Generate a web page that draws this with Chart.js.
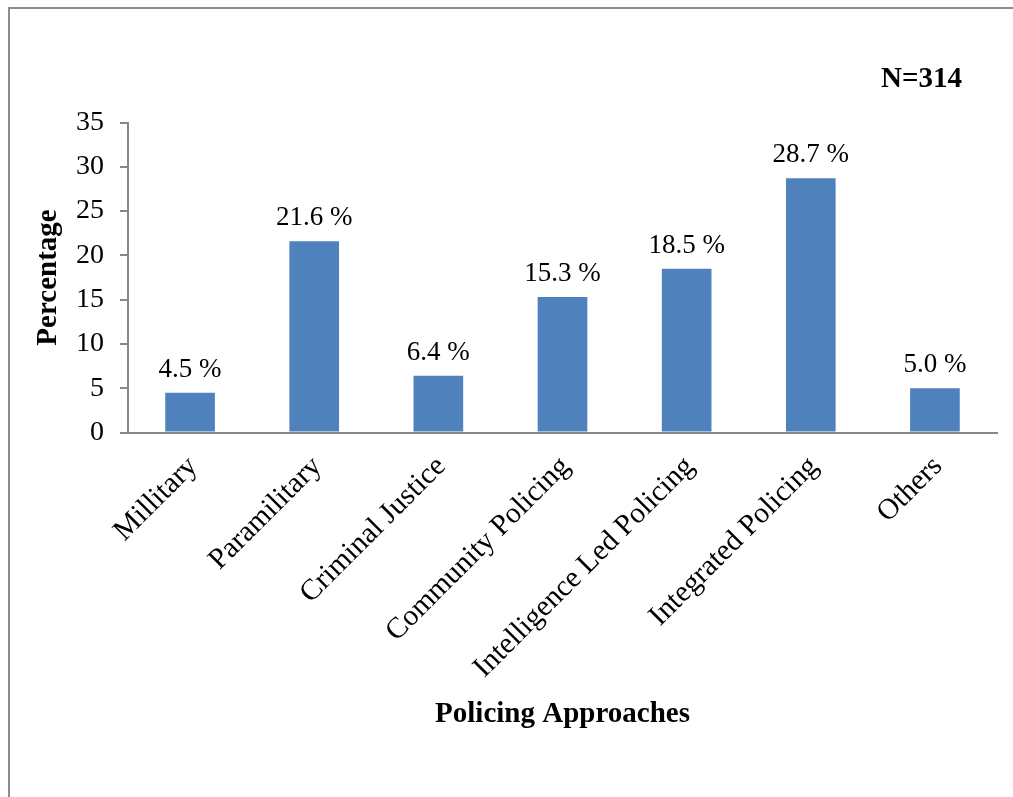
<!DOCTYPE html>
<html>
<head>
<meta charset="utf-8">
<script src="https://cdn.jsdelivr.net/npm/chart.js@4"></script>
<style>
    body { margin: 0; background: #fff; }
    #wrap { position: relative; width: 1013px; height: 797px; overflow: hidden; }
    #frame { position: absolute; left: 8px; top: 7px; width: 1100px; height: 900px;
             border-left: 2px solid #8c8c8c; border-top: 2px solid #8c8c8c; }
    #chart { position: absolute; left: 0; top: 0; }
</style>
</head>
<body>
<div id="wrap">
    <div id="frame"></div>
    <canvas id="chart" width="1013" height="797"></canvas>
</div>
<script>
// Chart data
const categories = ['Millitary', 'Paramilitary', 'Criminal Justice', 'Community Policing',
    'Intelligence Led Policing', 'Integrated Policing', 'Others'];
const percentages = [4.5, 21.6, 6.4, 15.3, 18.5, 28.7, 5.0];
const yTicks = [0, 5, 10, 15, 20, 25, 30, 35];
const sampleNote = 'N=314';

const serif = "'Liberation Serif', 'Times New Roman', serif";
const axisGray = '#868686';

// Draw value labels above each bar and the N note
const valueLabels = {
    id: 'valueLabels',
    afterDatasetsDraw(chart) {
        const ctx = chart.ctx;
        const meta = chart.getDatasetMeta(0);
        ctx.save();
        ctx.fillStyle = '#000';
        ctx.font = `27px ${serif}`;
        ctx.textAlign = 'center';
        ctx.textBaseline = 'alphabetic';
        meta.data.forEach((bar, i) => {
            ctx.fillText(percentages[i].toFixed(1) + ' %', bar.x, bar.y - 16);
        });
        ctx.font = `bold 29px ${serif}`;
        ctx.textAlign = 'right';
        ctx.fillText(sampleNote, 962, 87);
        ctx.restore();
    }
};

new Chart(document.getElementById('chart').getContext('2d'), {
    type: 'bar',
    data: {
        labels: categories,
        datasets: [{
            data: percentages,
            backgroundColor: '#4F81BD',
            borderWidth: 0,
            categoryPercentage: 1,
            barPercentage: 0.4
        }]
    },
    options: {
        responsive: false,
        animation: false,
        layout: { padding: { top: 122.5, right: 16, bottom: 0, left: 0 } },
        plugins: {
            legend: { display: false },
            tooltip: { enabled: false }
        },
        scales: {
            x: {
                afterFit: s => { s.height = 797 - 432.5; },
                grid: { display: false, drawTicks: false },
                border: { display: true, color: axisGray, width: 2 },
                ticks: {
                    color: '#000',
                    font: { family: serif, size: 29.5 },
                    minRotation: 45,
                    maxRotation: 45,
                    autoSkip: false,
                    labelOffset: 3,
                    padding: 17
                },
                title: {
                    display: true,
                    text: 'Policing Approaches',
                    color: '#000',
                    font: { family: serif, size: 29, weight: 'bold' },
                    padding: { top: 0, bottom: 64.6 }
                }
            },
            y: {
                min: 0,
                max: 35,
                afterFit: s => { s.width = 128; },
                afterBuildTicks: s => { s.ticks = yTicks.map(v => ({ value: v })); },
                grid: { drawOnChartArea: false, drawTicks: true, tickLength: 8, color: axisGray, lineWidth: 2 },
                border: { display: true, color: axisGray, width: 2 },
                ticks: {
                    color: '#000',
                    font: { family: serif, size: 28 },
                    padding: 16
                },
                title: {
                    display: true,
                    text: 'Percentage',
                    color: '#000',
                    font: { family: serif, size: 29, weight: 'bold' },
                    padding: { top: 31.6, bottom: 0 }
                }
            }
        }
    },
    plugins: [valueLabels]
});
</script>
</body>
</html>
